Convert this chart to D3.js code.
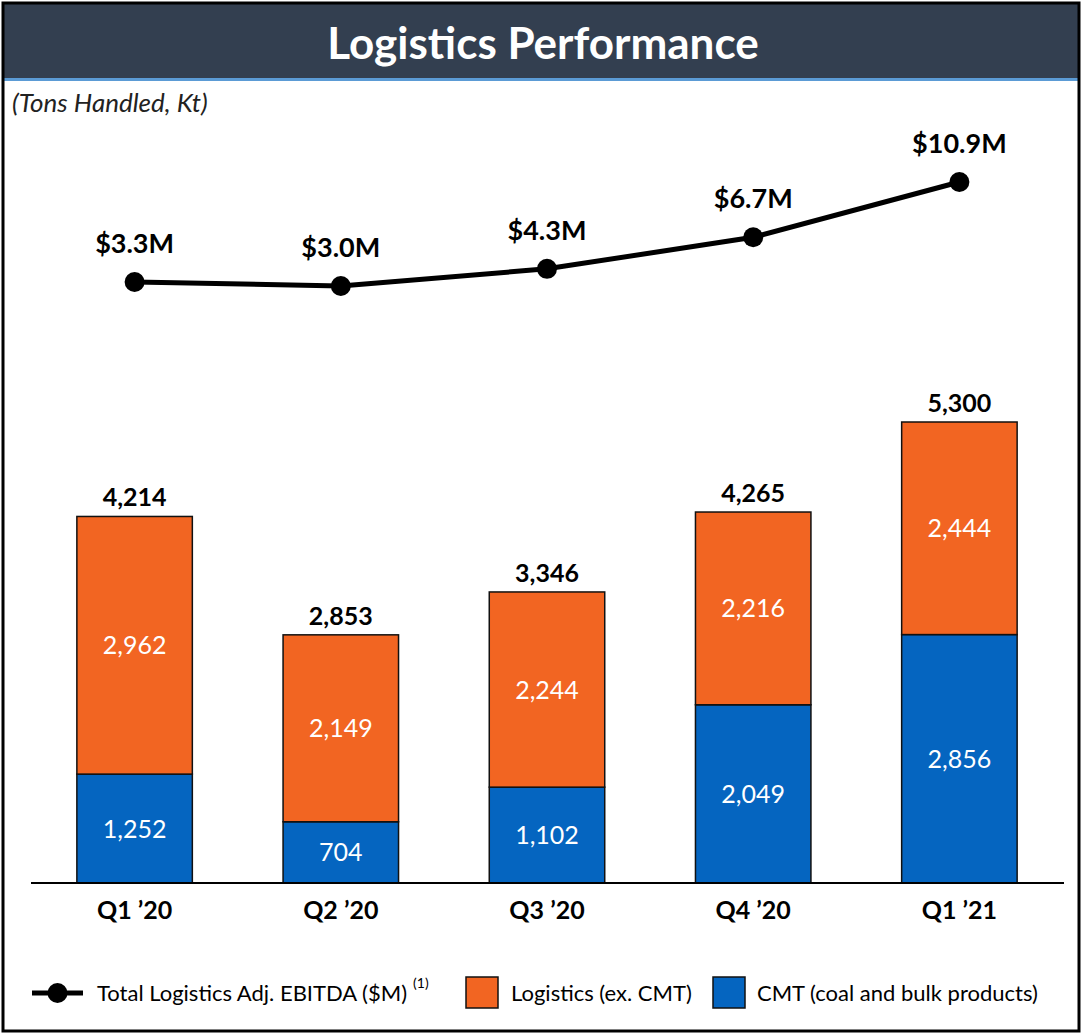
<!DOCTYPE html>
<html>
<head>
<meta charset="utf-8">
<script src="https://cdn.jsdelivr.net/npm/d3@7"></script>
<style>
  body { margin: 0; background: #fff; }
  svg text { font-family: Lato, "Open Sans", sans-serif; }
</style>
</head>
<body>
<svg id="chart" width="1082" height="1034" viewBox="0 0 1082 1034"></svg>
<script>
const quarters = ["Q1 \u201920", "Q2 \u201920", "Q3 \u201920", "Q4 \u201920", "Q1 \u201921"];
const cmt = [1252, 704, 1102, 2049, 2856];
const logistics = [2962, 2149, 2244, 2216, 2444];
const ebitda = [3.3, 3.0, 4.3, 6.7, 10.9];

const ORANGE = "#f26522";
const BLUE = "#0565c0";

const svg = d3.select("#chart");
const fmt = d3.format(",");

// frame + title band
svg.append("rect").attr("x", 0).attr("y", 0).attr("width", 1082).attr("height", 1034).attr("fill", "#fff");
svg.append("rect").attr("x", 3).attr("y", 3).attr("width", 1076).attr("height", 76).attr("fill", "#333f50");
svg.append("rect").attr("x", 3).attr("y", 78).attr("width", 1076).attr("height", 3).attr("fill", "#5b9bd5");
svg.append("rect").attr("x", 3).attr("y", 3).attr("width", 1076).attr("height", 1028)
  .attr("fill", "none").attr("stroke", "#000").attr("stroke-width", 3);

svg.append("text").attr("x", 543).attr("y", 59).attr("text-anchor", "middle")
  .attr("fill", "#fff").attr("font-size", 44).attr("font-weight", "bold")
  .text("Logistics Performance");
svg.append("text").attr("x", 12).attr("y", 112).attr("font-size", 26)
  .attr("font-style", "italic").attr("fill", "#222").text("(Tons Handled, Kt)");

// scales
const x = d3.scaleBand().domain(quarters).range([31.5, 1062.5]).paddingInner(0.44).paddingOuter(0.22);
const y = d3.scaleLinear().domain([0, 5300]).range([883, 422]);
const y2 = d3.scaleLinear().domain([3.3, 10.9]).range([282, 182]);

const rows = quarters.map((q, i) => ({ q, cmt: cmt[i], log: logistics[i], total: cmt[i] + logistics[i], e: ebitda[i] }));

const bars = svg.append("g");
rows.forEach((d) => {
  const g = bars.append("g");
  g.append("rect").attr("x", x(d.q)).attr("y", y(d.cmt)).attr("width", x.bandwidth())
    .attr("height", y(0) - y(d.cmt)).attr("fill", BLUE).attr("stroke", "#111").attr("stroke-width", 1.5);
  g.append("rect").attr("x", x(d.q)).attr("y", y(d.total)).attr("width", x.bandwidth())
    .attr("height", y(d.cmt) - y(d.total)).attr("fill", ORANGE).attr("stroke", "#111").attr("stroke-width", 1.5);
  const cx = x(d.q) + x.bandwidth() / 2;
  g.append("text").attr("x", cx).attr("y", (y(0) + y(d.cmt)) / 2 + 9).attr("text-anchor", "middle")
    .attr("fill", "#fff").attr("font-size", 25).text(fmt(d.cmt));
  g.append("text").attr("x", cx).attr("y", (y(d.cmt) + y(d.total)) / 2 + 9).attr("text-anchor", "middle")
    .attr("fill", "#fff").attr("font-size", 25).text(fmt(d.log));
  g.append("text").attr("x", cx).attr("y", y(d.total) - 10).attr("text-anchor", "middle")
    .attr("fill", "#000").attr("font-size", 25).attr("font-weight", "bold").text(fmt(d.total));
});

// x axis
const axis = svg.append("g").attr("transform", `translate(0,${y(0)})`)
  .call(d3.axisBottom(x).tickSize(0).tickPadding(18));
axis.select(".domain").attr("d", "M31,0H1064").attr("stroke", "#000").attr("stroke-width", 2);
axis.selectAll("text").attr("font-size", 25).attr("font-weight", "bold").attr("fill", "#000")
  .style("font-family", "Lato, 'Open Sans', sans-serif");

// EBITDA line
const line = d3.line().x((d) => x(d.q) + x.bandwidth() / 2).y((d) => y2(d.e));
svg.append("path").datum(rows).attr("d", line).attr("fill", "none").attr("stroke", "#000").attr("stroke-width", 5);
svg.selectAll("circle.pt").data(rows).enter().append("circle").attr("class", "pt")
  .attr("cx", (d) => x(d.q) + x.bandwidth() / 2).attr("cy", (d) => y2(d.e)).attr("r", 10).attr("fill", "#000");
svg.selectAll("text.el").data(rows).enter().append("text").attr("class", "el")
  .attr("x", (d) => x(d.q) + x.bandwidth() / 2).attr("y", (d) => y2(d.e) - 29)
  .attr("text-anchor", "middle").attr("font-size", 27).attr("font-weight", "bold").attr("fill", "#000")
  .text((d) => `$${d.e.toFixed(1)}M`);

// legend
const lg = svg.append("g");
lg.append("line").attr("x1", 32).attr("x2", 83).attr("y1", 993).attr("y2", 993).attr("stroke", "#000").attr("stroke-width", 5);
lg.append("circle").attr("cx", 57.5).attr("cy", 993).attr("r", 10).attr("fill", "#000");
const lt = lg.append("text").attr("x", 97).attr("y", 1001).attr("font-size", 22).attr("fill", "#000")
  .text("Total Logistics Adj. EBITDA ($M)");
const ltEnd = 97 + lt.node().getComputedTextLength();
lg.append("text").attr("x", ltEnd + 6).attr("y", 988).attr("font-size", 14).attr("fill", "#000").text("(1)");
lg.append("rect").attr("x", 466).attr("y", 977).attr("width", 32).attr("height", 31).attr("fill", ORANGE).attr("stroke", "#111").attr("stroke-width", 1.5);
lg.append("text").attr("x", 511).attr("y", 1001).attr("font-size", 22).attr("fill", "#000").text("Logistics (ex. CMT)");
lg.append("rect").attr("x", 713).attr("y", 977).attr("width", 32).attr("height", 31).attr("fill", BLUE).attr("stroke", "#111").attr("stroke-width", 1.5);
lg.append("text").attr("x", 757).attr("y", 1001).attr("font-size", 22).attr("fill", "#000").text("CMT (coal and bulk products)");
</script>
</body>
</html>
